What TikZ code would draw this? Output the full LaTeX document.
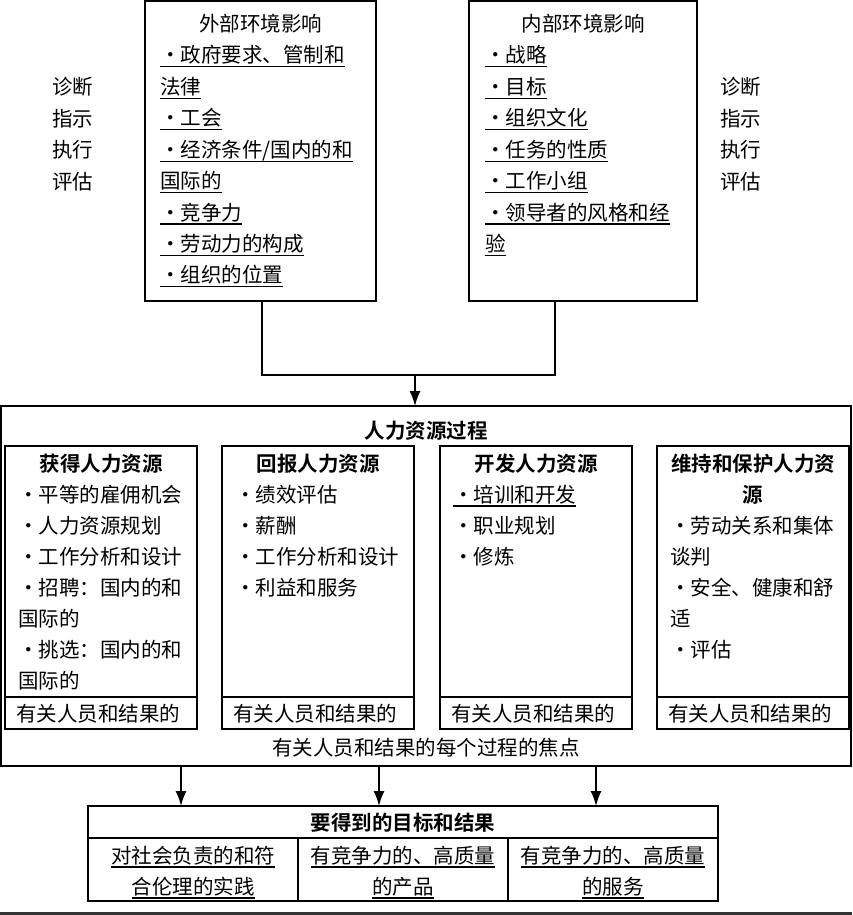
\documentclass[tikz,border=0pt]{standalone}
\usepackage{fontspec}
\setmainfont{Noto Sans CJK SC}[BoldFont={Noto Sans CJK SC Bold}]
\usetikzlibrary{arrows.meta}
\newcommand\ulx[1]{\setbox0\hbox{#1}\rlap{\rule[-4.5pt]{\wd0}{1.2pt}}\box0}
\newcommand\bul{•}
\begin{document}
\begin{tikzpicture}[x=1pt,y=-1pt,font=\fontsize{20.5pt}{25pt}\selectfont,
  box/.style={draw,line width=1.3pt,inner sep=0,outer sep=0},
  conn/.style={line width=1.5pt},
  arr/.style={line width=1.5pt,-{Latex[length=15pt,width=11pt]}},
  txt/.style={anchor=base west,inner sep=0},
  ctr/.style={anchor=base,inner sep=0},
  hd/.style={anchor=base,inner sep=0,font=\fontsize{20.5pt}{25pt}\selectfont\bfseries}]
\useasboundingbox (0,0) rectangle (852,915);
% top boxes
\node[box,minimum width=231pt,minimum height=300pt] (ext) at (260.5,151) {};
\node[box,minimum width=228pt,minimum height=300pt] (int) at (583,151) {};
\node[ctr] (extt) at (260.5,32) {外部环境影响};
\node[ctr] (intt) at (583,32) {内部环境影响};
\foreach \t [count=\i] in {\bul 政府要求、管制和,法律,\bul 工会,\bul 经济条件/国内的和,国际的,\bul 竞争力,\bul 劳动力的构成,\bul 组织的位置}
  \node[txt] (e\i) at (160,{63+31.4*(\i-1)}) {\ulx{\t}};
\foreach \t [count=\i] in {\bul 战略,\bul 目标,\bul 组织文化,\bul 任务的性质,\bul 工作小组,\bul 领导者的风格和经,验}
  \node[txt] (n\i) at (485,{63+31.4*(\i-1)}) {\ulx{\t}};
% side labels
\foreach \t [count=\i] in {诊断,指示,执行,评估}{
  \node[txt] (sl\i) at (52,{95+31.4*(\i-1)}) {\t};
  \node[txt] (sr\i) at (720,{95+31.4*(\i-1)}) {\t};
}
% big box
\node[box,minimum width=850pt,minimum height=360pt] (big) at (426,586) {};
\node[hd] (bigt) at (426,438) {人力资源过程};
\node[ctr] (bigf) at (426,755) {有关人员和结果的每个过程的焦点};
\foreach \cx/\n in {101/1,318/2,536/3,753/4}{
  \node[box,minimum width=192pt,minimum height=283pt] (b\n) at (\cx,587.5) {};
  \coordinate (dy\n) at (0,697);
  \draw[line width=1.3pt] (b\n.west |- dy\n) -- (b\n.east |- dy\n);
  \node[txt] (f\n) at ({\cx-85},721) {有关人员和结果的};
}
\node[hd] (h1) at (101,471) {获得人力资源};
\node[hd] (h2) at (318,471) {回报人力资源};
\node[hd] (h3) at (536,471) {开发人力资源};
\node[hd] (h4a) at (753,471) {维持和保护人力资};
\node[hd] (h4b) at (753,502) {源};
\foreach \t [count=\i] in {\bul 平等的雇佣机会,\bul 人力资源规划,\bul 工作分析和设计,\bul 招聘：国内的和,国际的,\bul 挑选：国内的和,国际的}
  \node[txt] (p\i) at (18,{502+31*(\i-1)}) {\t};
\foreach \t [count=\i] in {\bul 绩效评估,\bul 薪酬,\bul 工作分析和设计,\bul 利益和服务}
  \node[txt] (q\i) at (235,{502+31*(\i-1)}) {\t};
\node[txt] (r1) at (453,502) {\ulx{\bul 培训和开发}};
\node[txt] (r2) at (453,533) {\bul 职业规划};
\node[txt] (r3) at (453,564) {\bul 修炼};
\foreach \t [count=\i] in {\bul 劳动关系和集体,谈判,\bul 安全、健康和舒,适,\bul 评估}
  \node[txt] (s\i) at (670,{533+31*(\i-1)}) {\t};
% result box
\node[box,minimum width=630pt,minimum height=95pt] (res) at (403,853.5) {};
\coordinate (rd) at (0,838);
\draw[line width=1.3pt] (res.west |- rd) -- (res.east |- rd);
\coordinate (v1) at (298,0);
\coordinate (v2) at (508,0);
\draw[line width=1.3pt] (rd -| v1) -- (res.south -| v1);
\draw[line width=1.3pt] (rd -| v2) -- (res.south -| v2);
\node[hd] (rt) at (403,830) {要得到的目标和结果};
\node[ctr] (c1a) at (193,863) {\ulx{对社会负责的和符}};
\node[ctr] (c1b) at (193,894) {\ulx{合伦理的实践}};
\node[ctr] (c2a) at (403,863) {\ulx{有竞争力的、高质量}};
\node[ctr] (c2b) at (403,894) {\ulx{的产品}};
\node[ctr] (c3a) at (613,863) {\ulx{有竞争力的、高质量}};
\node[ctr] (c3b) at (613,894) {\ulx{的服务}};
% connectors
\coordinate (j) at (415,375);
\draw[conn] ([xshift=1.5pt]ext.south) |- (j);
\draw[conn] ([xshift=-28pt]int.south) |- (j);
\draw[arr] (j) -- (big.north -| j);
\foreach \x [count=\k] in {181,379,596}{
  \coordinate (a\k) at (\x,0);
  \draw[arr] (big.south -| a\k) -- (res.north -| a\k);
}
% bottom rule
\coordinate (bl) at (0,913);
\coordinate (br) at (852,913);
\draw[line width=3pt,black!80] (bl) -- (br);
\end{tikzpicture}
\end{document}
